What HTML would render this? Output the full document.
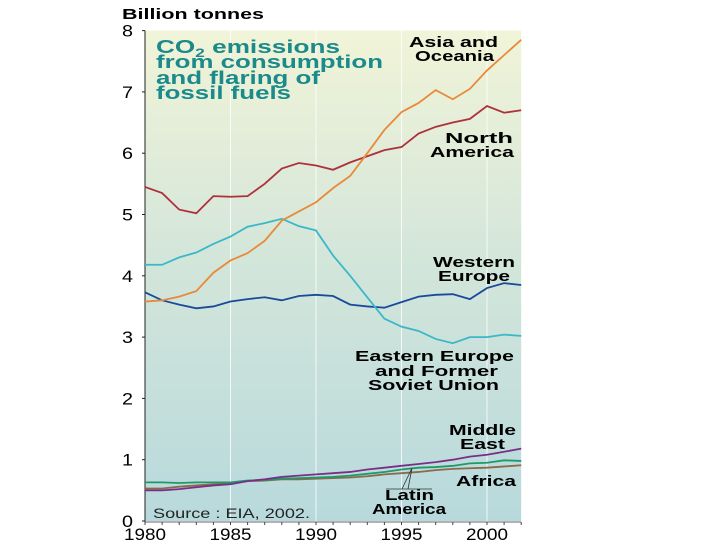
<!DOCTYPE html>
<html><head><meta charset="utf-8"><style>
body{margin:0;background:#fff;width:720px;height:540px;overflow:hidden}
svg{display:block}
text{font-family:"Liberation Sans",Arial,sans-serif}
</style></head><body>
<svg id="chart" width="720" height="540">
<defs><linearGradient id="bg" x1="0" y1="0" x2="0" y2="1">
<stop offset="0" stop-color="#f1f4d8"/><stop offset="0.45" stop-color="#d4e6da"/><stop offset="1" stop-color="#b8d9dc"/></linearGradient></defs>
<g id="plot"></g>
</svg>
<script>
const years=[1980,1981,1982,1983,1984,1985,1986,1987,1988,1989,1990,1991,1992,1993,1994,1995,1996,1997,1998,1999,2000,2001,2002];
const northAmerica=[5.45,5.35,5.08,5.02,5.3,5.29,5.3,5.5,5.75,5.84,5.8,5.73,5.85,5.95,6.05,6.1,6.32,6.43,6.5,6.56,6.77,6.66,6.7];
const asiaOceania=[3.58,3.6,3.66,3.75,4.05,4.25,4.37,4.57,4.9,5.05,5.2,5.43,5.63,6.0,6.38,6.67,6.82,7.03,6.88,7.05,7.35,7.6,7.85];
const easternEurope=[4.18,4.18,4.3,4.38,4.52,4.64,4.8,4.86,4.93,4.81,4.74,4.33,4.0,3.65,3.3,3.17,3.1,2.97,2.9,3.0,3.0,3.04,3.02];
const westernEurope=[3.73,3.6,3.53,3.47,3.5,3.58,3.62,3.65,3.6,3.67,3.69,3.67,3.53,3.5,3.48,3.57,3.66,3.69,3.7,3.62,3.8,3.88,3.85];
const middleEast=[0.5,0.5,0.52,0.55,0.58,0.6,0.65,0.68,0.72,0.74,0.76,0.78,0.8,0.84,0.87,0.9,0.93,0.96,1.0,1.05,1.08,1.13,1.18];
const latinAmerica=[0.63,0.63,0.62,0.63,0.63,0.63,0.66,0.67,0.69,0.7,0.71,0.72,0.74,0.77,0.8,0.84,0.87,0.88,0.9,0.94,0.95,0.99,0.98];
const africa=[0.53,0.53,0.56,0.58,0.6,0.62,0.65,0.66,0.68,0.68,0.69,0.7,0.71,0.73,0.76,0.78,0.8,0.83,0.85,0.86,0.87,0.89,0.91];
const yTicks=[0,1,2,3,4,5,6,7,8];
const xTicks=[1980,1985,1990,1995,2000];

const X=y=>145+(y-1980)*17.1;
const Y=v=>521-v*61.3;
const NS="http://www.w3.org/2000/svg";
const g=document.getElementById('plot');
function mk(t,a,txt){const e=document.createElementNS(NS,t);for(const k in a)e.setAttribute(k,a[k]);if(txt!==undefined)e.textContent=txt;g.appendChild(e);return e;}

let e=mk('rect',{x:145,y:Y(8),width:X(2002)-145,height:Y(0)-Y(8),fill:'url(#bg)'});


xTicks.slice(1).forEach(t=>{
  const l=mk('line',{x1:X(t),x2:X(t),y1:Y(8),y2:Y(0),stroke:'#ffffff','stroke-width':1,opacity:0.8});
  
  
});
e=mk('line',{x1:145,x2:145,y1:Y(8),y2:Y(0)+2,stroke:'#222','stroke-width':1});


e=mk('line',{x1:145,x2:X(2002),y1:Y(0)+1,y2:Y(0)+1,stroke:'#666','stroke-width':1});


years.forEach(y=>{const l=mk('line',{x1:X(y),x2:X(y),y1:Y(0)+1,y2:Y(0)+4,stroke:'#444','stroke-width':1});
  
  });
yTicks.forEach(t=>{
  const tx=mk('text',{x:122,y:Y(t)+6,'font-size':17,fill:'#000',textLength:11,lengthAdjust:'spacingAndGlyphs'},String(t));
  
  
  const tk=mk('line',{x1:142,x2:145,y1:Y(t),y2:Y(t),stroke:'#222'});
  
  
});
xTicks.forEach(t=>{
  const tx=mk('text',{x:X(t),y:540,'font-size':17,'text-anchor':'middle',fill:'#000',textLength:42,lengthAdjust:'spacingAndGlyphs'},String(t));
  
  
});
const series=[[africa,'#8a6a4a','africa-line'],[latinAmerica,'#1e9a6a','latin-america-line'],[middleEast,'#7a2e8a','middle-east-line'],
[westernEurope,'#1a4a9a','western-europe-line'],[easternEurope,'#3ab8c8','eastern-europe-line'],[northAmerica,'#b0303a','north-america-line'],[asiaOceania,'#e88a3a','asia-oceania-line']];
series.forEach(([d,c,n])=>{
  const p=mk('polyline',{points:d.map((v,i)=>X(years[i])+','+Y(v)).join(' '),fill:'none',stroke:c,'stroke-width':1.8});
  
  
});
function label(lines,n,size,fill){
  lines.forEach(([s,x,w,y])=>{const t=mk('text',{x:x,y:y,'font-size':size,'font-weight':'bold',fill:fill||'#000',textLength:w,lengthAdjust:'spacingAndGlyphs'},s);
    
    });
}
label([['Billion tonnes',122,142,19]],'y-axis-title',15);
e=mk('text',{x:156,y:53,'font-size':18,'font-weight':'bold',fill:'#1a8a8a',textLength:184,lengthAdjust:'spacingAndGlyphs'},'');


e.innerHTML='CO<tspan font-size="12" dy="4">2</tspan><tspan dy="-4"> emissions</tspan>';
label([['from consumption',156,227,68],['and flaring of',156,164,84],['fossil fuels',156,135,99]],'chart-title-rest',18,'#1a8a8a');
label([['Asia and',409,89,47],['Oceania',415,79,61]],'asia-oceania-label',15);
label([['North',445,68,143],['America',430,84,157]],'north-america-label',15);
label([['Western',433,82,267],['Europe',438,72,281]],'western-europe-label',15);
label([['Eastern Europe',355,159,361],['and Former',375,123,376],['Soviet Union',368,131,390]],'eastern-europe-label',15);
label([['Middle',449,67,435],['East',460,45,449]],'middle-east-label',15);
label([['Africa',456,60,486]],'africa-label',15);
label([['Latin',385,49,500],['America',372,74,514]],'latin-america-label',15);
e=mk('polyline',{points:'386,489 432,489',fill:'none',stroke:'#333','stroke-width':0.8});


e=mk('polyline',{points:'402,489 412,468 408,489',fill:'none',stroke:'#333','stroke-width':0.8});


e=mk('text',{x:153,y:518,'font-size':14,fill:'#222',textLength:157,lengthAdjust:'spacingAndGlyphs'},'Source : EIA, 2002.');


</script>
</body></html>
